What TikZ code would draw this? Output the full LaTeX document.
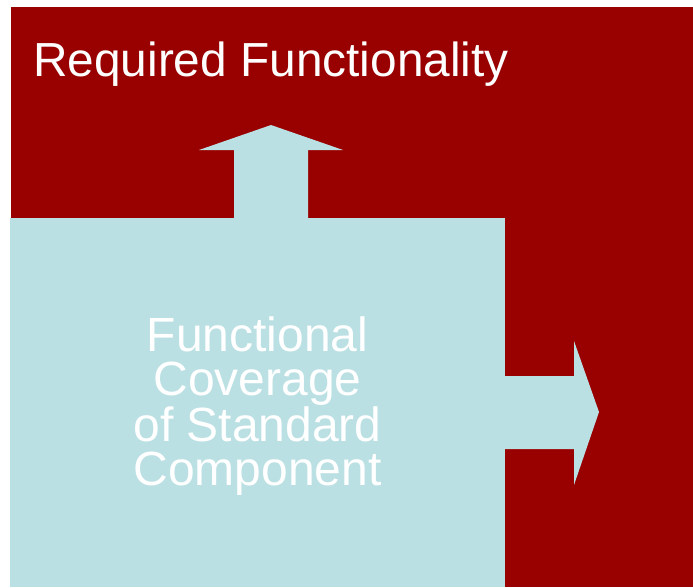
\documentclass[tikz,border=0pt]{standalone}
\usepackage{fontspec}
\setmainfont{Liberation Sans}
\usepackage{tikz}
\usetikzlibrary{positioning}
\usepackage{xcolor}
\definecolor{darkred}{RGB}{153,0,0}
\definecolor{paleblue}{RGB}{187,224,227}
\tikzset{whitetext/.style={text=white,inner sep=0}}

\begin{document}
\begin{tikzpicture}[x=1pt,y=-1pt]
\useasboundingbox (0,0) rectangle (693,587);
\fill[darkred] (11,7) rectangle (693,587);
\fill[paleblue] (10,218) rectangle (505,587);
\fill[paleblue] (234,219)--(234,150)--(199,150)--(271,125)--(343,150)--(308,150)--(308,219)--cycle;
\fill[paleblue] (504,376)--(574,376)--(574,341)--(599,412)--(574,485)--(574,449)--(504,449)--cycle;
\node[whitetext,anchor=base west,font=\fontsize{47.8}{50}\selectfont] (required) at (33,76) {Required Functionality};
\node[whitetext,align=center,font=\fontsize{48}{44.5}\selectfont] (coverage) at (257.5,406) {Functional\\Coverage\\of Standard\\Component};
\end{tikzpicture}
\end{document}
